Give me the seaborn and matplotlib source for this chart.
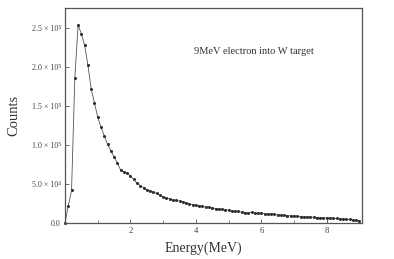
import numpy as np
import pandas as pd
import matplotlib
matplotlib.use("Agg")
import matplotlib.pyplot as plt
import seaborn as sns

energy = [round(0.1 * i, 1) for i in range(91)]
counts = [
    0, 22000, 42000, 186000, 254000, 243000, 228000, 203000, 172000, 154000,
    136000, 123000, 112000, 101000, 93000, 85000, 77000, 68000, 65000, 64000,
    60000, 56000, 51000, 48000, 45500, 43000, 41000, 39500, 38000, 35500,
    33500, 32500, 31000, 29500, 29000, 28000, 27000, 26000, 24500, 23500,
    23000, 22000, 21500, 20500, 20000, 19500, 18500, 18000, 17500, 17000,
    16500, 15500, 15200, 14800, 14000, 13300, 13000, 13500, 12800, 12500,
    12800, 12000, 11500, 11800, 11000, 10500, 10200, 9800, 9500, 9000,
    9200, 8500, 8200, 8000, 7800, 7700, 7300, 7000, 6800, 6500,
    6400, 6300, 6000, 5800, 5600, 5100, 5000, 4500, 4000, 3500,
    2600,
]
ytick_vals = [0, 50000, 100000, 150000, 200000, 250000]
ytick_labels = ["0.0", "5.0 × 10⁴", "1.0 × 10⁵", "1.5 × 10⁵", "2.0 × 10⁵", "2.5 × 10⁵"]
xtick_vals = [2, 4, 6, 8]
annotation = "9MeV electron into W target"

sns.set_style("ticks")
plt.rcParams['font.family'] = ['Liberation Serif', 'DejaVu Serif']

df = pd.DataFrame({"Energy": energy, "Counts": counts})

fig = plt.figure(figsize=(3.94, 2.59), dpi=100)
ax = fig.add_axes([0.165, 0.139, 0.754, 0.830])
sns.lineplot(data=df, x="Energy", y="Counts", ax=ax, color="#555555",
             linewidth=0.6, marker="o", markersize=2.2, markeredgewidth=0,
             markerfacecolor="#2e2e2e", clip_on=False)

ax.set_xlim(0, 9.08)
ax.set_ylim(0, 276000)
ax.set_xticks(xtick_vals)
ax.set_xticklabels([str(v) for v in xtick_vals], fontsize=6.3, color="#444")
ax.set_xticks([1, 3, 5, 7, 9], minor=True)
ax.set_yticks(ytick_vals)
ax.set_yticklabels(ytick_labels, fontsize=5.8, color="#444")
ax.tick_params(direction="in", length=3, width=0.6, color="#555", pad=3)
ax.tick_params(which="minor", direction="in", length=2, width=0.5, color="#555")
for s in ax.spines.values():
    s.set_linewidth(0.9)
    s.set_color("#555")

ax.set_xlabel("Energy(MeV)", fontsize=10, color="#333")
ax.xaxis.set_label_coords(0.465, -0.085)
ax.set_ylabel("Counts", fontsize=10.5, color="#333", labelpad=8)
ax.text(0.435, 0.8, annotation, transform=ax.transAxes, fontsize=7.5,
        color="#333", ha="left", va="center")

fig.savefig("out.png", dpi=100)
